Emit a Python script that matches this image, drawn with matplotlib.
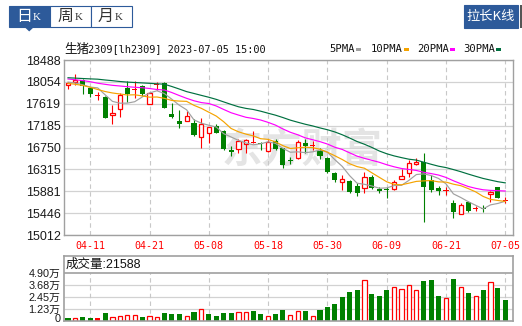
import matplotlib.pyplot as plt
from matplotlib.patches import Rectangle, Polygon
import pandas as pd

plt.rcParams['font.family'] = ['Liberation Sans', 'Noto Sans CJK SC']

# trading days shown (MM-DD)
dates = ['04-06', '04-07', '04-10', '04-11', '04-12', '04-13', '04-14', '04-17', '04-18', '04-19',
         '04-20', '04-21', '04-24', '04-25', '04-26', '04-27', '04-28', '05-04', '05-05', '05-08',
         '05-09', '05-10', '05-11', '05-12', '05-15', '05-16', '05-17', '05-18', '05-19', '05-22',
         '05-23', '05-24', '05-25', '05-26', '05-29', '05-30', '05-31', '06-01', '06-02', '06-05',
         '06-06', '06-07', '06-08', '06-09', '06-12', '06-13', '06-14', '06-15', '06-16', '06-19',
         '06-20', '06-21', '06-26', '06-27', '06-28', '06-29', '06-30', '07-03', '07-04', '07-05']

opens = [17985, 18045, 18091, 17938, 17772, 17759, 17390, 17509, 17926, 17902,
         17978, 17608, 17998, 18025, 17416, 17282, 17282, 17243, 16965, 17032,
         17177, 17084, 16701, 16715, 16820, 16846, 16834, 16687, 16886, 16734,
         16502, 16536, 16834, 16786, 16681, 16548, 16238, 16071, 16085, 15985,
         15952, 16158, 15920, 15926, 15920, 16119, 16238, 16417, 16456, 16105,
         15952, 15890, 15642, 15423, 15674, 15525, 15550, 15827, 15960, 15700]
highs = [18051, 18204, 18111, 17952, 17858, 17780, 17594, 17839, 18071, 18071,
         17991, 17858, 18057, 18045, 17634, 17495, 17475, 17316, 17330, 17164,
         17217, 17098, 16780, 16913, 16913, 17084, 16866, 16899, 16913, 16750,
         16567, 16899, 16919, 16879, 16734, 16562, 16270, 16204, 16099, 16039,
         16270, 16204, 15972, 15972, 16105, 16317, 16502, 16536, 16635, 16204,
         15985, 15972, 15708, 15642, 15688, 15588, 15608, 15893, 15972, 15761]
lows = [17912, 17991, 17813, 17759, 17700, 17330, 17223, 17356, 17660, 17739,
        17773, 17608, 17892, 17541, 17342, 17131, 17282, 16979, 16746, 16846,
        17032, 16700, 16581, 16635, 16635, 16834, 16701, 16667, 16701, 16337,
        16417, 16516, 16635, 16701, 16516, 16238, 16059, 15906, 15840, 15787,
        15840, 15920, 15840, 15741, 15906, 16119, 16158, 16403, 15276, 15872,
        15807, 15807, 15356, 15423, 15475, 15495, 15475, 15674, 15741, 15642]
closes = [18025, 18091, 17972, 17807, 17779, 17342, 17430, 17793, 17813, 17918,
          17807, 17839, 18005, 17541, 17356, 17217, 17376, 16998, 17217, 17151,
          17044, 16715, 16667, 16879, 16899, 16860, 16814, 16866, 16715, 16403,
          16482, 16853, 16786, 16793, 16587, 16270, 16105, 16119, 15872, 15840,
          16158, 15940, 15893, 15906, 16071, 16184, 16436, 16468, 15972, 15906,
          15893, 15900, 15475, 15608, 15495, 15535, 15540, 15872, 15753, 15712]

# volume in lots, colour kind: g = down, r = up (hollow), f = flat (filled red)
volume = [2400, 3000, 3400, 2400, 2400, 7400, 4100, 5100, 6100, 6100,
          3400, 5100, 4100, 7400, 6400, 6400, 5100, 8400, 12200, 6400,
          4400, 7400, 7400, 9100, 9100, 9500, 6400, 5100, 6400, 10500,
          6100, 10100, 9500, 5100, 10500, 13500, 16600, 24700, 29700, 31800,
          41600, 27700, 25700, 31800, 34500, 32400, 36800, 31400, 40900, 41900,
          25700, 23300, 42900, 34500, 28700, 25700, 31800, 39500, 33800, 21588]
vol_kind = ['g', 'r', 'g', 'g', 'f', 'g', 'r', 'r', 'r', 'r',
            'g', 'r', 'r', 'g', 'g', 'g', 'r', 'g', 'r', 'g',
            'g', 'g', 'g', 'r', 'r', 'g', 'g', 'r', 'g', 'g',
            'r', 'r', 'g', 'r', 'g', 'g', 'g', 'g', 'g', 'g',
            'r', 'g', 'g', 'g', 'r', 'r', 'r', 'r', 'g', 'g',
            'g', 'r', 'g', 'r', 'g', 'r', 'g', 'r', 'g', 'g']

# moving-average values at the left edge (history before the first candle)
ma5_head = [18050, 18030, 17995, 17950]
ma10_head = [18025, 18005, 17982, 17946, 17902, 17862, 17833, 17813, 17793]
ma20_head = [18111, 18095, 18079, 18057, 18027, 18005, 17985, 17972, 17958, 17946,
             17938, 17922, 17902, 17892, 17842, 17783, 17727, 17678, 17642]
ma30_head = [18136, 18128, 18120, 18113, 18107, 18091, 18077, 18061, 18049, 18041,
             18033, 18025, 18015, 18007, 17962, 17912, 17860, 17823, 17785, 17748,
             17706, 17656, 17606, 17559, 17527, 17505, 17471, 17431, 17392]

price_ticks = [15012, 15446, 15881, 16315, 16750, 17185, 17619, 18054, 18488]
vol_ticks = [0, 1.23, 2.45, 3.68, 4.90]

RED = '#ff0000'
GREEN = '#008000'
BLUE = '#2d5a9a'
ma_colors = {5: '#a0a0a0', 10: '#f5a300', 20: '#ff00ff', 30: '#007040'}

W, H = 522, 326
fig = plt.figure(figsize=(W / 100, H / 100), dpi=100)


def px_axes(x0, y0, x1, y1):
    return fig.add_axes([x0 / W, 1 - y1 / H, (x1 - x0) / W, (y1 - y0) / H])


# header bar (pixel coords)
bg = fig.add_axes([0, 0, 1, 1])
bg.set_xlim(0, W)
bg.set_ylim(H, 0)
bg.axis('off')
bg.add_patch(Rectangle((8.5, 5.5), 41, 21, fc=BLUE, ec=BLUE, lw=0.8))
bg.add_patch(Rectangle((49.5, 5.5), 41, 21, fc='white', ec=BLUE, lw=0.8))
bg.add_patch(Rectangle((90.5, 5.5), 41, 21, fc='white', ec=BLUE, lw=0.8))
bg.add_patch(Polygon([(25, 26.5), (33.5, 26.5), (29.2, 30.5)], closed=True, color=BLUE))
for x, ch, col in [(24, '日', 'white'), (66, '周', '#333333'), (106, '月', '#333333')]:
    bg.text(x, 16.5, ch, color=col, fontsize=11.5, ha='center', va='center',
            family='Noto Sans CJK SC')
    bg.text(x + 12.5, 17, 'K', color=col, fontsize=8, ha='center', va='center',
            family='Liberation Serif')
bg.add_patch(Rectangle((464, 5), 54, 23, fc=BLUE, ec=BLUE, lw=0.8))
bg.text(491, 16.5, '拉长K线', color='white', fontsize=9.5, ha='center', va='center',
        family=['Noto Sans CJK SC'])
bg.add_patch(Rectangle((520, 5), 2, 23, fc='#555555', ec='none'))

# title and legend
bg.text(64, 49, '生猪', fontsize=9, ha='left', va='center',
        family='Noto Sans CJK SC', color='#111111')
bg.text(88, 49.5, '2309[lh2309] 2023-07-05 15:00', fontsize=7.4, ha='left', va='center',
        family='DejaVu Sans Mono', color='#111111')
leg_x = {5: 329, 10: 371, 20: 417, 30: 463}
for n, x in leg_x.items():
    bg.text(x, 49, f'{n}PMA', fontsize=7.6, ha='left', va='center',
            family='DejaVu Sans Mono', color='#111111')
    w = 6.05 * len(f'{n}PMA')
    bg.add_patch(Rectangle((x + w + 3, 47.5), 5, 3, fc=ma_colors[n], ec='none'))

n_days = len(dates)
xs = list(range(n_days))
tick_idx = xs[3::8]
tick_lab = [dates[i] for i in tick_idx]
xl = (-0.54, n_days - 1 + 1.04)

# ---- price panel ----
ax = px_axes(64, 60, 513, 235)
ax.set_xlim(*xl)
ax.set_ylim(price_ticks[0], price_ticks[-1])
ax.set_facecolor('white')
for s in ax.spines.values():
    s.set_color('#a0a0a0')
    s.set_linewidth(1)
ax.set_yticks(price_ticks)
ax.set_yticklabels([str(v) for v in price_ticks], fontsize=9, color='#1a1a1a')
ax.set_xticks(tick_idx)
ax.set_xticklabels(tick_lab, fontsize=7.2, color=RED, family='DejaVu Sans Mono')
ax.tick_params(axis='y', length=0, pad=2.5)
ax.tick_params(axis='x', length=0, pad=4.5)
ax.yaxis.grid(True, color='#d2d2d2', lw=0.9, ls='-')
ax.xaxis.grid(True, color='#c8c8c8', lw=0.8, ls=(0, (4, 3)))
ax.set_axisbelow(True)

ax.text(0.53, 0.48, '东方财富', transform=ax.transAxes, fontsize=29, color='#e4e4e4',
        ha='center', va='center', family='Noto Sans CJK SC', weight='bold', zorder=0.5)

body_w = 0.68
for i in xs:
    o, h, l, c = opens[i], highs[i], lows[i], closes[i]
    up = c >= o
    col = RED if up else GREEN
    ax.vlines(i, l, h, color=col, lw=0.8, zorder=2)
    if abs(c - o) < 25:
        ax.bar(i, 22, bottom=(o + c) / 2 - 11, width=body_w, color=col, lw=0, zorder=3)
    elif up:
        ax.bar(i, c - o, bottom=o, width=body_w - 0.12, facecolor='white', edgecolor=RED,
               lw=0.9, zorder=3)
    else:
        ax.bar(i, o - c, bottom=c, width=body_w, color=GREEN, lw=0, zorder=3)

close_s = pd.Series(closes, dtype=float)
for n, head in [(5, ma5_head), (10, ma10_head), (20, ma20_head), (30, ma30_head)]:
    ma = close_s.rolling(n).mean()
    ma.iloc[:n - 1] = head
    ax.plot(xs, ma, color=ma_colors[n], lw=0.85, zorder=4)

# ---- volume panel ----
vol_wan = [v / 10000 for v in volume]
vax = px_axes(64, 256, 513, 320.5)
vax.set_xlim(*xl)
vol_top = vol_ticks[-1] * 64.5 / 47.5
vax.set_ylim(0, vol_top)
for s in vax.spines.values():
    s.set_color('#a0a0a0')
    s.set_linewidth(1.2)
vax.set_xticks([])
vax.set_yticks(vol_ticks[1:])
vax.set_yticklabels([f'{v:.2f}万' for v in vol_ticks[1:]], fontsize=7.8, color='#1a1a1a')
vax.tick_params(axis='y', length=0, pad=2.5)
# the zero label sits just above the bottom edge
bg.text(61, 319.3, '0', fontsize=7.8, ha='right', va='center', color='#1a1a1a')
vax.hlines(vol_ticks[1:-1], *xl, color='#d2d2d2', lw=0.9, zorder=0)
vax.vlines(tick_idx, 0, vol_ticks[-1], color='#c8c8c8', lw=0.8, ls=(0, (4, 3)), zorder=0)
vax.axhline(vol_ticks[-1], color='#a0a0a0', lw=1.2, zorder=1)
for i in xs:
    k = vol_kind[i]
    if k == 'g':
        vax.bar(i, vol_wan[i], width=body_w, color=GREEN, lw=0, zorder=2)
    elif k == 'r':
        vax.bar(i, vol_wan[i], width=body_w - 0.12, facecolor='white', edgecolor=RED,
                lw=0.9, zorder=2)
    else:
        vax.bar(i, vol_wan[i], width=body_w, color=RED, lw=0, zorder=2)
vax.text(0.004, (vol_top + vol_ticks[-1]) / 2 / vol_top, f'成交量:{volume[-1]}',
         transform=vax.transAxes, fontsize=9, ha='left', va='center', color='#111111')

fig.savefig('out.png', dpi=100)
